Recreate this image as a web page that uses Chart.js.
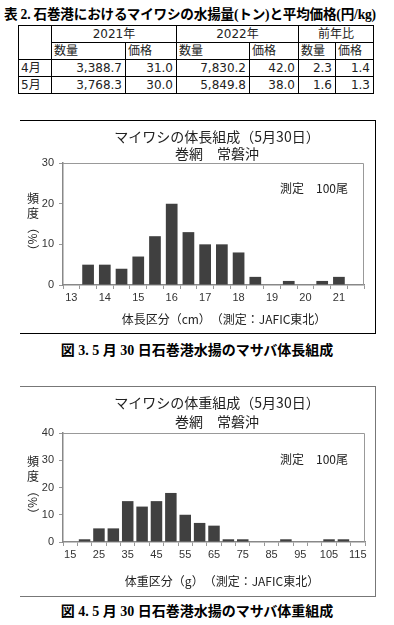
<!DOCTYPE html>
<html>
<head>
<meta charset="utf-8">
<script src="https://cdn.jsdelivr.net/npm/chart.js@4/dist/chart.umd.min.js"></script>
<style>
body { margin: 0; width: 394px; height: 625px; position: relative; overflow: hidden; background: #fff; font-family: "Noto Sans CJK JP", sans-serif; color: #000; }
#tblTitle { position: absolute; left: 4px; top: 3px; width: 390px; font: bold 13.6px "Liberation Serif", "Noto Sans CJK JP"; white-space: nowrap; letter-spacing: -0.2px; }
#landings { position: absolute; left: 18px; top: 25px; border-collapse: collapse; table-layout: fixed; font: 12px "DejaVu Sans", "Noto Sans CJK JP"; color: #222; }
#landings td { border: 1px solid #000; padding: 0 2px; height: 16px; line-height: 16px; white-space: nowrap; overflow: hidden; }
#landings td.num { text-align: right; padding-right: 3px; }
#landings td.head { text-align: center; }
.box { position: absolute; left: 20px; border-top: 1px solid #000; border-right: 1px solid #000; border-bottom: 1px solid #000; }
.box canvas { position: absolute; left: 0; top: 0; }
.cap { position: absolute; left: 0; width: 394px; text-align: center; font: bold 14px "Liberation Serif", "Noto Sans CJK JP"; white-space: nowrap; }
</style>
</head>
<body>
<div id="tblTitle">表 2. 石巻港におけるマイワシの水揚量(トン)と平均価格(円/kg)</div>
<table id="landings"></table>

<div class="box" style="top:120px; width:355px; height:212px;"><canvas id="lengthChart" width="355" height="213"></canvas></div>
<div class="cap" style="top:339px;">図 3. 5 月 30 日石巻港水揚のマサバ体長組成</div>

<div class="box" style="top:386px; width:355px; height:209px; border-color:#777;"><canvas id="weightChart" width="355" height="210"></canvas></div>
<div class="cap" style="top:600px;">図 4. 5 月 30 日石巻港水揚のマサバ体重組成</div>

<script>
/* Table 2: landings and prices */
const tableYears = ["2021年", "2022年", "前年比"];
const tableCols = ["数量", "価格"];
const tableMonths = ["4月", "5月"];
const qty2021 = ["3,388.7", "3,768.3"];
const price2021 = ["31.0", "30.0"];
const qty2022 = ["7,830.2", "5,849.8"];
const price2022 = ["42.0", "38.0"];
const qtyRatio = ["2.3", "1.6"];
const priceRatio = ["1.4", "1.3"];

/* Fig 3: body length (cm), 0.5 cm bins */
const lengthBins = [13, 13.5, 14, 14.5, 15, 15.5, 16, 16.5, 17, 17.5, 18, 18.5, 19, 19.5, 20, 20.5, 21, 21.5];
const lengthCounts = [0, 5, 5, 4, 7, 12, 20, 13, 10, 10, 8, 2, 0, 1, 0, 1, 2, 0];
const lengthTicks = [13, 14, 15, 16, 17, 18, 19, 20, 21];

/* Fig 4: body weight (g), 5 g bins */
const weightBins = [15, 20, 25, 30, 35, 40, 45, 50, 55, 60, 65, 70, 75, 80, 85, 90, 95, 100, 105, 110, 115];
const weightCounts = [0, 1, 5, 5, 15, 13, 15, 18, 10, 7, 6, 1, 1, 0, 0, 1, 0, 0, 1, 1, 0];
const weightTicks = [15, 25, 35, 45, 55, 65, 75, 85, 95, 105, 115];

// build the table
const widths = [33, 74, 51, 73, 49, 37, 38];
const tbl = document.getElementById("landings");
let html = "<colgroup>" + widths.map(w => `<col style="width:${w}px">`).join("") + "</colgroup>";
html += `<tr><td rowspan="2"></td>` + tableYears.map(y => `<td class="head" colspan="2">${y}</td>`).join("") + "</tr>";
html += "<tr>" + tableYears.map(() => tableCols.map(c => `<td>${c}</td>`).join("")).join("") + "</tr>";
tableMonths.forEach((m, i) => {
    html += `<tr><td>${m}</td>` +
        [qty2021[i], price2021[i], qty2022[i], price2022[i], qtyRatio[i], priceRatio[i]]
            .map(v => `<td class="num">${v}</td>`).join("") + "</tr>";
});
tbl.innerHTML = html;

// texts drawn inside each chart box
const chartText = {
    id: "chartText",
    beforeDatasetsDraw(chart, args, o) {
        const ctx = chart.ctx, a = chart.chartArea;
        ctx.save();
        // plot area frame
        ctx.strokeStyle = "#999";
        ctx.lineWidth = 1;
        ctx.beginPath();
        ctx.moveTo(a.left, a.top + 0.5);
        ctx.lineTo(a.right - 0.5, a.top + 0.5);
        ctx.lineTo(a.right - 0.5, a.bottom);
        ctx.stroke();
        ctx.restore();
    },
    afterDraw(chart, args, o) {
        const ctx = chart.ctx, a = chart.chartArea;
        ctx.save();
        ctx.fillStyle = "#222";
        ctx.textBaseline = "middle";
        ctx.textAlign = "center";
        ctx.font = '14px "Noto Sans CJK JP"';
        o.title.forEach((t, i) => ctx.fillText(t, o.titleX, o.titleY[i]));
        ctx.font = '12px "Noto Sans CJK JP"';
        ctx.textAlign = "left";
        ctx.fillText(o.note, o.noteX, o.noteY);
        ctx.textAlign = "center";
        ctx.fillText(o.xTitle, o.xTitleX, o.xTitleY);
        // vertical y title: 頻 度 then rotated (%)
        const cy = (a.top + a.bottom) / 2 - 26;
        ctx.fillText("頻", 13, cy);
        ctx.fillText("度", 13, cy + 15);
        ctx.translate(13, cy + 41);
        ctx.rotate(Math.PI / 2);
        ctx.fillText("（%）", 0, 0);
        ctx.restore();
    }
};

function histogram(id, bins, counts, ticks, yMax, barPct, pad, text) {
    new Chart(document.getElementById(id), {
        type: "bar",
        data: {
            labels: bins.map(String),
            datasets: [{
                data: counts,
                backgroundColor: "#404040",
                borderWidth: 0,
                barPercentage: barPct,
                categoryPercentage: 1
            }]
        },
        options: {
            responsive: false,
            animation: false,
            layout: { padding: pad },
            plugins: {
                legend: { display: false },
                tooltip: { enabled: false },
                chartText: text
            },
            scales: {
                x: {
                    grid: { offset: true, drawOnChartArea: false, tickLength: 4, color: "#999" },
                    border: { color: "#888", width: 1.5 },
                    ticks: {
                        autoSkip: false,
                        maxRotation: 0,
                        padding: 2,
                        color: "#333",
                        font: { family: "Liberation Sans", size: 11 },
                        callback: (v, i) => ticks.includes(bins[i]) ? String(bins[i]) : ""
                    },
                    afterFit: s => { s.height = 20; }
                },
                y: {
                    min: 0,
                    max: yMax,
                    grid: { drawOnChartArea: false, tickLength: 4, color: "#999" },
                    border: { color: "#888", width: 1.5 },
                    ticks: {
                        stepSize: 10,
                        padding: 5,
                        color: "#333",
                        font: { family: "Liberation Sans", size: 11 }
                    },
                    afterFit: s => { s.width = 43; }
                }
            }
        },
        plugins: [chartText]
    });
}

histogram("lengthChart", lengthBins, lengthCounts, lengthTicks, 30, 0.7,
    { left: 0, top: 42, right: 11, bottom: 29 },
    {
        title: ["マイワシの体長組成（5月30日）", "巻網　常磐沖"], titleX: 197, titleY: [16, 33],
        note: "測定　100尾", noteX: 260, noteY: 67,
        xTitle: "体長区分（cm）　（測定：JAFIC東北）", xTitleX: 204, xTitleY: 198
    });

histogram("weightChart", weightBins, weightCounts, weightTicks, 40, 0.8,
    { left: 0, top: 46, right: 10, bottom: 35 },
    {
        title: ["マイワシの体重組成（5月30日）", "巻網　常磐沖"], titleX: 197, titleY: [16, 35],
        note: "測定　100尾", noteX: 260, noteY: 72,
        xTitle: "体重区分（g）　（測定：JAFIC東北）", xTitleX: 202, xTitleY: 194
    });
</script>
</body>
</html>
